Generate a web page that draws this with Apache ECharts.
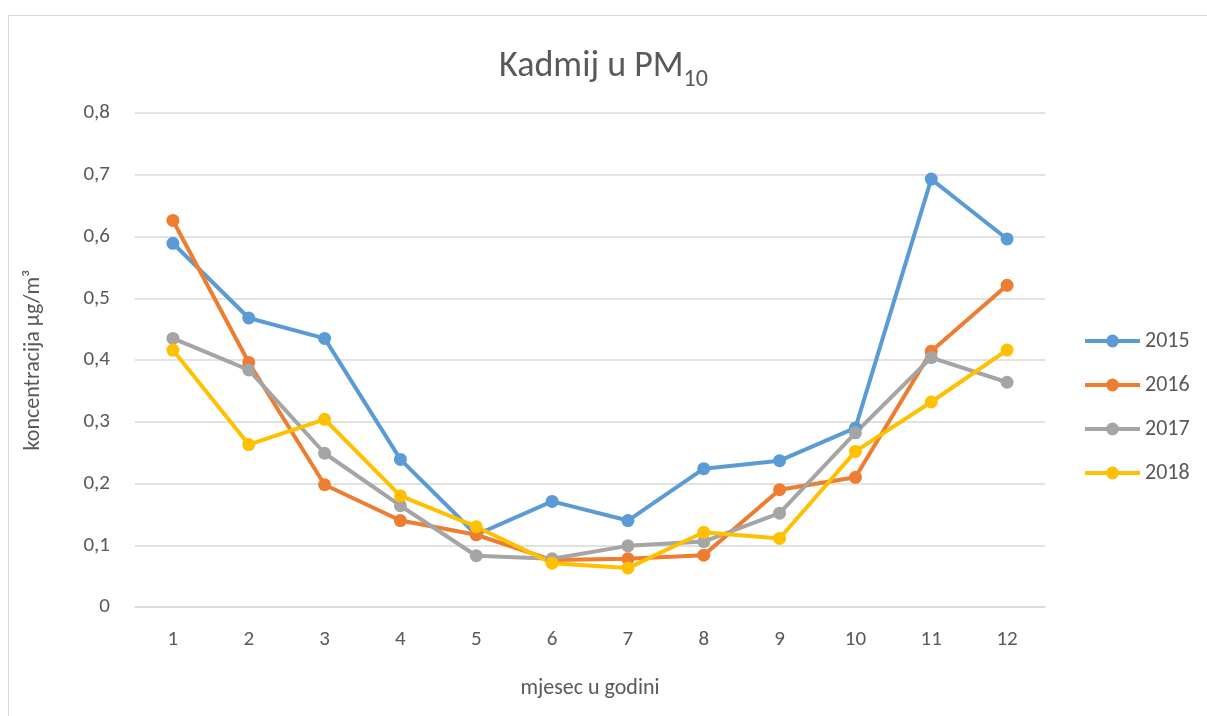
<!DOCTYPE html>
<html>
<head>
<meta charset="utf-8">
<script src="https://cdn.jsdelivr.net/npm/echarts@6/dist/echarts.min.js"></script>
<style>
html,body{margin:0;padding:0;background:#fff;}
#frame{position:absolute;left:8px;top:15px;width:1230px;height:720px;border:1px solid #D9D9D9;box-sizing:border-box;}
#chart{position:absolute;left:0;top:0;width:1207px;height:716px;}
</style>
</head>
<body>
<div id="frame"></div>
<div id="chart"></div>
<script>
const months = ['1','2','3','4','5','6','7','8','9','10','11','12'];
const s2015 = [0.589, 0.468, 0.435, 0.239, 0.117, 0.171, 0.140, 0.224, 0.237, 0.290, 0.693, 0.596];
const s2016 = [0.626, 0.396, 0.198, 0.140, 0.117, 0.076, 0.078, 0.084, 0.190, 0.210, 0.414, 0.521];
const s2017 = [0.435, 0.384, 0.249, 0.164, 0.083, 0.078, 0.099, 0.106, 0.152, 0.282, 0.404, 0.364];
const s2018 = [0.416, 0.263, 0.304, 0.180, 0.130, 0.071, 0.063, 0.121, 0.111, 0.252, 0.332, 0.416];
const seriesNames = ['2015','2016','2017','2018'];
const colors = ['#5B9BD5','#ED7D31','#A5A5A5','#FFC000'];
const allData = [s2015, s2016, s2017, s2018];

const chart = echarts.init(document.getElementById('chart'));
const font = 'Calibri, Carlito, "Open Sans", "Noto Sans", sans-serif';
chart.setOption({
  backgroundColor: 'transparent',
  animation: false,
  color: colors,
  title: {
    text: '{a|Kadmij u PM}{b|10}',
    left: 'center',
    top: 38,
    textStyle: {
      fontWeight: 'normal',
      rich: {
        a: {fontSize: 36, fontWeight: 'normal', color: '#595959', fontFamily: font, verticalAlign: 'bottom', lineHeight: 42},
        b: {fontSize: 24, fontWeight: 'normal', color: '#595959', fontFamily: font, verticalAlign: 'bottom', lineHeight: 30, padding: [0,0,-7,0]}
      }
    }
  },
  legend: {
    orient: 'vertical',
    left: 1078,
    top: 325,
    itemWidth: 55,
    itemHeight: 16,
    itemGap: 22,
    data: seriesNames,
    lineStyle: {width: 4},
    textStyle: {fontSize: 22, color: '#595959', fontFamily: font}
  },
  grid: {left: 135, right: 162, top: 113, bottom: 109},
  xAxis: {
    type: 'category',
    data: months,
    name: 'mjesec u godini',
    nameLocation: 'middle',
    nameGap: 70,
    nameTextStyle: {fontSize: 22, color: '#595959', fontFamily: font},
    axisLine: {lineStyle: {color: '#D9D9D9', width: 1.5}},
    axisTick: {show: false},
    axisLabel: {fontSize: 21, color: '#595959', fontFamily: font, margin: 22}
  },
  yAxis: {
    type: 'value',
    min: 0,
    max: 0.8,
    interval: 0.1,
    name: 'koncentracija µg/m³',
    nameLocation: 'middle',
    nameGap: 91,
    nameRotate: 90,
    nameTextStyle: {fontSize: 22, color: '#595959', fontFamily: font},
    axisLine: {show: false},
    axisTick: {show: false},
    splitLine: {lineStyle: {color: '#D9D9D9', width: 1.5}},
    axisLabel: {
      fontSize: 21, color: '#595959', fontFamily: font, margin: 25,
      formatter: v => v === 0 ? '0' : v.toFixed(1).replace('.', ',')
    }
  },
  series: seriesNames.map((n, i) => ({
    name: n,
    type: 'line',
    data: allData[i],
    symbol: 'circle',
    symbolSize: 13,
    lineStyle: {width: 4, color: colors[i]},
    itemStyle: {color: colors[i]}
  }))
});
</script>
</body>
</html>
